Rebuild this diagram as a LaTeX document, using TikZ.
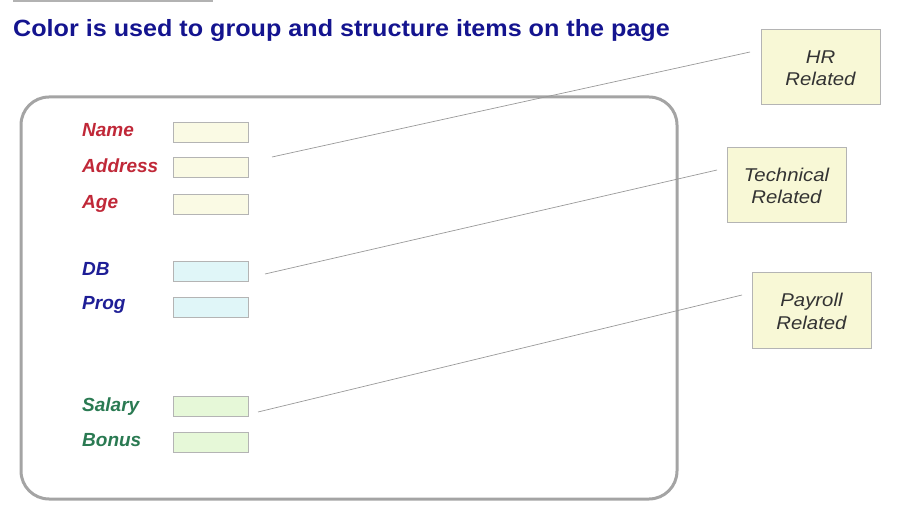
\documentclass[tikz,border=0pt]{standalone}
\usepackage{fontspec}
\setmainfont{Liberation Sans}
\definecolor{titleblue}{HTML}{14148F}
\definecolor{hrred}{HTML}{C02838}
\definecolor{techblue}{HTML}{1E1E96}
\definecolor{payg}{HTML}{2A7A52}
\definecolor{fyel}{HTML}{FAFAE4}
\definecolor{fcyan}{HTML}{E0F6F8}
\definecolor{fgreen}{HTML}{E6F8D8}
\definecolor{notefill}{HTML}{F8F8D6}
\definecolor{framegray}{HTML}{A4A4A4}
\definecolor{boxgray}{HTML}{B4B4B4}
\newcommand{\twoline}[2]{\raisebox{-3pt}[\height][\depth]{\scalebox{1.1}[1]{\begin{tabular}{@{}c@{}}#1\\#2\end{tabular}}}}
\tikzset{
  fieldlabel/.style={anchor=base west, inner sep=0pt, font=\fontsize{19}{19}\selectfont\bfseries\itshape},
  fieldbox/.style={draw=boxgray, line width=0.8pt, minimum width=75pt, minimum height=20pt, inner sep=0pt, anchor=west},
  notebox/.style={draw=boxgray, line width=1pt, fill=notefill, minimum width=119pt, minimum height=75pt, inner sep=0pt, text=black!80, font=\fontsize{18.5}{22.3}\selectfont\itshape},
  linkline/.style={draw=black!40, line width=0.7pt}
}
\begin{document}
\begin{tikzpicture}[x=1pt,y=-1pt]
\useasboundingbox (0,0) rectangle (905,529);
\fill[black!30] (13,0) rectangle (213,2);
\node[anchor=base west, inner sep=0pt, text=titleblue, font=\fontsize{23.5}{24}\selectfont\bfseries] (title) at (13,36.5) {\scalebox{1.07}[1]{Color is used to group and structure items on the page}};
\draw[framegray, line width=3pt, rounded corners=28pt] (21,97) rectangle (677,499);
% labels
\node[fieldlabel, text=hrred] (lname) at (82,137) {Name};
\node[fieldlabel, text=hrred] (laddr) at (82,173) {Address};
\node[fieldlabel, text=hrred] (lage) at (82,209) {Age};
\node[fieldlabel, text=techblue] (ldb) at (82,275.5) {DB};
\node[fieldlabel, text=techblue] (lprog) at (82,310) {Prog};
\node[fieldlabel, text=payg] (lsal) at (82,411) {Salary};
\node[fieldlabel, text=payg] (lbon) at (82,446.5) {Bonus};
% boxes
\node[fieldbox, fill=fyel] (bname) at (173,132) {};
\node[fieldbox, fill=fyel] (baddr) at (173,167) {};
\node[fieldbox, fill=fyel] (bage) at (173,204) {};
\node[fieldbox, fill=fcyan] (bdb) at (173,271) {};
\node[fieldbox, fill=fcyan] (bprog) at (173,307) {};
\node[fieldbox, fill=fgreen] (bsal) at (173,406) {};
\node[fieldbox, fill=fgreen] (bbon) at (173,442) {};
% notes
\node[notebox] (nhr) at (820.5,67) {\twoline{HR}{Related}};
\node[notebox] (ntech) at (786.5,185) {\twoline{Technical}{Related}};
\node[notebox] (npay) at (811.5,310.5) {\twoline{Payroll}{Related}};
% connectors
\coordinate (hrs) at (272,157);
\coordinate (hre) at (750,52);
\coordinate (tes) at (265,274);
\coordinate (tee) at (717,170);
\coordinate (pas) at (258,412);
\coordinate (pae) at (742,295);
\draw[linkline] (hrs) -- (hre);
\draw[linkline] (tes) -- (tee);
\draw[linkline] (pas) -- (pae);
\end{tikzpicture}
\end{document}
